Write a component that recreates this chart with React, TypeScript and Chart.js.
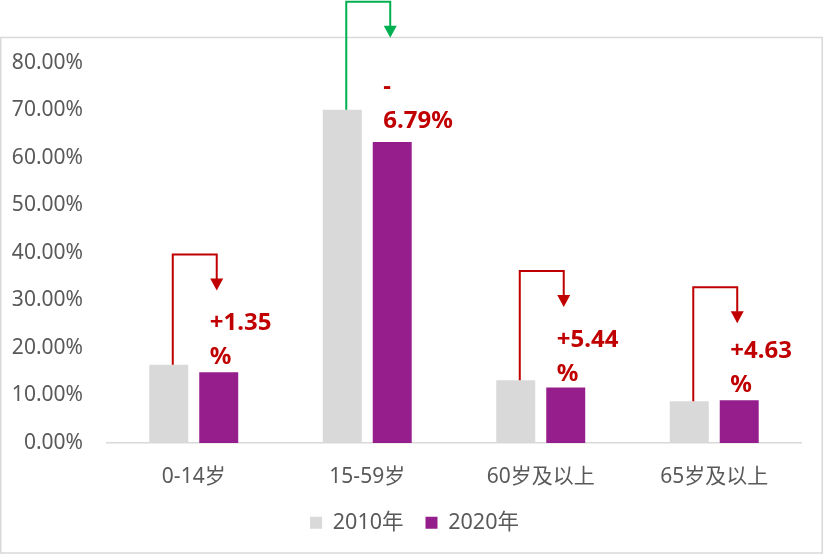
import React, { useEffect, useRef } from "react";
import { Chart, registerables } from "chart.js";

Chart.register(...registerables);

// ---- data ----
const categories = ["0-14岁", "15-59岁", "60岁及以上", "65岁及以上"];
const seriesLabels = ["2010年", "2020年"];
const values2010 = [16.5, 70.14, 13.2, 8.8];
const values2020 = [14.9, 63.35, 11.7, 9.0];
const changeLabels = [
  ["+1.35", "%"],
  ["-", "6.79%"],
  ["+5.44", "%"],
  ["+4.63", "%"],
];
const yMin = 0;
const yMax = 80;
const yStep = 10;

// ---- annotation layout (value-axis units) ----
const connectorTopValue = [39.7, 92.9, 36.2, 32.8];
const labelBaselineValue = [23.7, 73.5, 20.3, 17.8];

// ---- styles ----
const COLOR_2010 = "#D9D9D9";
const COLOR_2020 = "#961E8C";
const RED = "#C00000";
const GREEN = "#00B050";
const arrowColors = [RED, GREEN, RED, RED];
const TEXT_GRAY = "#595959";
const FONT = "'Noto Sans', 'Noto Sans CJK SC', sans-serif";
const LEGEND_SHIFT = 14;

const framePlugin = {
  id: "frame",
  afterLayout(chart: any) {
    if (chart.legend) {
      chart.legend.left += LEGEND_SHIFT;
      chart.legend.right += LEGEND_SHIFT;
    }
  },
  beforeDraw(chart: any) {
    const ctx = chart.ctx;
    ctx.save();
    ctx.strokeStyle = "#D9D9D9";
    ctx.lineWidth = 1.5;
    ctx.strokeRect(0.75, 37.5, 821.5, 515.5);
    ctx.restore();
  },
};

const arrowPlugin = {
  id: "arrows",
  afterDatasetsDraw(chart: any) {
    const ctx = chart.ctx;
    const ys = chart.scales.y;
    const m0 = chart.getDatasetMeta(0).data;
    const m1 = chart.getDatasetMeta(1).data;
    ctx.save();
    for (let i = 0; i < categories.length; i++) {
      const b0 = m0[i];
      const b1 = m1[i];
      const xv = b0.x + 4;
      const yBar = b0.y;
      const yTop = ys.getPixelForValue(connectorTopValue[i]);
      const xa = b1.x - 2;
      const yTip = yTop + 36;
      const col = arrowColors[i];
      ctx.strokeStyle = col;
      ctx.fillStyle = col;
      ctx.lineWidth = 2;
      ctx.beginPath();
      ctx.moveTo(xv, yBar);
      ctx.lineTo(xv, yTop);
      ctx.lineTo(xa, yTop);
      ctx.lineTo(xa, yTip - 10);
      ctx.stroke();
      ctx.beginPath();
      ctx.moveTo(xa - 6.5, yTip - 12);
      ctx.lineTo(xa + 6.5, yTip - 12);
      ctx.lineTo(xa, yTip);
      ctx.closePath();
      ctx.fill();

      ctx.fillStyle = RED;
      ctx.font = "bold 24px " + FONT;
      ctx.textAlign = "left";
      ctx.textBaseline = "alphabetic";
      const base = ys.getPixelForValue(labelBaselineValue[i]);
      changeLabels[i].forEach((t, k) => {
        ctx.fillText(t, xa - 7, base + k * 34);
      });
    }
    ctx.restore();
  },
};

export default function App() {
  const ref = useRef<HTMLCanvasElement>(null);
  useEffect(() => {
    document.body.style.margin = "0";
    const chart = new Chart(ref.current as HTMLCanvasElement, {
      type: "bar",
      data: {
        labels: categories,
        datasets: [
          {
            label: seriesLabels[0],
            data: values2010,
            backgroundColor: COLOR_2010,
            borderWidth: 0,
          },
          {
            label: seriesLabels[1],
            data: values2020,
            backgroundColor: COLOR_2020,
            borderWidth: 0,
          },
        ],
      },
      options: {
        animation: false,
        responsive: true,
        maintainAspectRatio: false,
        layout: { padding: { top: 63, left: 0, right: 23, bottom: 14.5 } },
        datasets: {
          bar: { categoryPercentage: 0.576, barPercentage: 0.78 },
        },
        scales: {
          x: {
            grid: { display: false, drawTicks: false },
            border: { display: true, color: "#D9D9D9", width: 1.5 },
            afterFit(scale: any) {
              scale.height = 47;
            },
            ticks: {
              color: TEXT_GRAY,
              font: { family: FONT, size: 21 },
              padding: 21,
            },
          },
          y: {
            min: yMin,
            max: yMax,
            grid: { display: false, drawTicks: false },
            border: { display: false },
            afterFit(scale: any) {
              scale.width = 107;
            },
            ticks: {
              stepSize: yStep,
              color: TEXT_GRAY,
              font: { family: FONT, size: 21 },
              padding: 24,
              callback: (v: any) => Number(v).toFixed(2) + "%",
            },
          },
        },
        plugins: {
          legend: {
            position: "bottom",
            labels: {
              color: TEXT_GRAY,
              font: { family: FONT, size: 21.5 },
              boxWidth: 12,
              boxHeight: 12,
              padding: 22,
            },
          },
          tooltip: { enabled: false },
        },
      },
      plugins: [framePlugin, arrowPlugin],
    } as any);
    return () => chart.destroy();
  }, []);
  return (
    <div style={{ position: "relative", width: 824, height: 558 }}>
      <canvas ref={ref} />
    </div>
  );
}
